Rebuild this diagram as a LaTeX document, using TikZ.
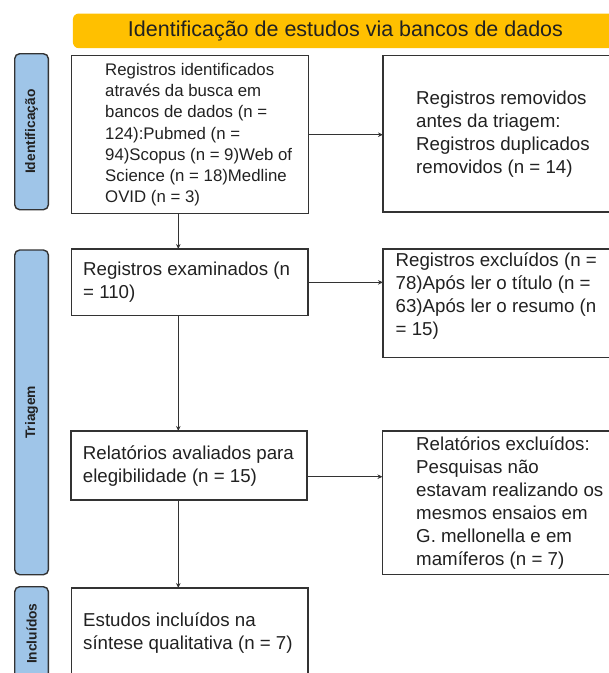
\documentclass[tikz,border=0pt]{standalone}
\usepackage{fontspec}
\setmainfont{Liberation Sans}
\usetikzlibrary{arrows.meta,calc}
\definecolor{bannercol}{HTML}{FFC000}
\definecolor{sideblue}{HTML}{9FC5E8}
\definecolor{edgecol}{HTML}{333333}
\definecolor{ink}{HTML}{212121}
\begin{document}
\begin{tikzpicture}[x=1pt,y=-1pt,
  boxnode/.style={draw=edgecol, line width=1.3pt, anchor=north west, inner sep=0pt, outer sep=0pt},
  sidebox/.style={draw=edgecol, fill=sideblue, line width=1.4pt, rounded corners=5pt, anchor=north west, inner sep=0pt, minimum width=33.7pt},
  sidelabel/.style={rotate=90, text=ink, font=\bfseries\fontsize{13.8}{15}\selectfont, inner sep=0pt},
  txt/.style={align=left, inner sep=0pt, text=ink, anchor=west, font=\fontsize{18.7}{23}\selectfont},
  arr/.style={draw=edgecol, line width=0.9pt, -{Stealth[length=5pt,width=4.5pt]}}
]
\useasboundingbox (0,0) rectangle (609,673);
\clip (0,0) rectangle (609,673);

% banner
\node[fill=bannercol, rounded corners=6pt, anchor=north west, inner sep=0pt,
      minimum width=570pt, minimum height=34.7pt] (ban) at (72.7,13.3) {};
\node[text=ink, font=\fontsize{21.5}{26}\selectfont, inner sep=0pt] (title) at (345.5,31) {Identificação de estudos via bancos de dados};

% side bars
\node[sidebox, minimum height=156pt] (s1) at (14,53) {};
\node[sidelabel] (l1) at (s1.center) {Identificação};
\node[sidebox, minimum height=324.7pt] (s2) at (14,249.3) {};
\node[sidelabel] (l2) at (s2.center) {Triagem};
\node[sidebox, minimum height=94pt] (s3) at (14,586) {};
\node[sidelabel] (l3) at (s3.center) {Incluídos};

% boxes
\node[boxnode, minimum width=237pt, minimum height=158pt] (b1) at (71.5,55.7) {};
\node[txt, font=\fontsize{16.8}{21.3}\selectfont] (t1) at ($(b1.west)+(33.5,0)$)
  {Registros identificados\\através da busca em\\bancos de dados (n =\\124):Pubmed (n =\\94)Scopus (n = 9)Web of\\Science (n = 18)Medline\\OVID (n = 3)};

\node[boxnode, minimum width=240pt, minimum height=156.3pt] (b2) at (383,55.7) {};
\node[txt] (t2) at ($(b2.west)+(33,0)$)
  {Registros removidos\\antes da triagem:\\Registros duplicados\\removidos (n = 14)};

\node[boxnode, minimum width=236.5pt, minimum height=66.7pt] (b3) at (71.5,249) {};
\node[txt] (t3) at ($(b3.west)+(11.5,0)$) {Registros examinados (n\\= 110)};

\node[boxnode, minimum width=240pt, minimum height=108.7pt] (b4) at (383,249) {};
\node[txt, anchor=north west] (t4) at ($(b4.north west)+(12.5,4)$)
  {Registros excluídos (n =\\78)Após ler o título (n =\\63)Após ler o resumo (n\\= 15)};

\node[boxnode, minimum width=236pt, minimum height=69pt] (b5) at (71,431) {};
\node[txt] (t5) at ($(b5.west)+(11.7,1)$) {Relatórios avaliados para\\elegibilidade (n = 15)};

\node[boxnode, minimum width=240pt, minimum height=143.3pt] (b6) at (382.5,431) {};
\node[txt] (t6) at ($(b6.west)+(33.5,0)$)
  {Relatórios excluídos:\\Pesquisas não\\estavam realizando os\\mesmos ensaios em\\G. mellonella e em\\mamíferos (n = 7)};

\node[boxnode, minimum width=236.5pt, minimum height=91pt] (b7) at (71.5,588) {};
\node[txt] (t7) at ($(b7.west)+(11.5,0)$) {Estudos incluídos na\\síntese qualitativa (n = 7)};

% connectors
\coordinate (vx) at (178.3,0);
\draw[arr] (b1.south -| vx) -- (b3.north -| vx);
\draw[arr] (b3.south -| vx) -- (b5.north -| vx);
\draw[arr] (b5.south -| vx) -- (b7.north -| vx);
\draw[arr] (b1.east) -- (b1.east -| b2.west);
\draw[arr] (b3.east) -- (b3.east -| b4.west);
\coordinate (a5) at ($(b5.east)+(0,11.2)$);
\draw[arr] (a5) -- (a5 -| b6.west);
\end{tikzpicture}
\end{document}
